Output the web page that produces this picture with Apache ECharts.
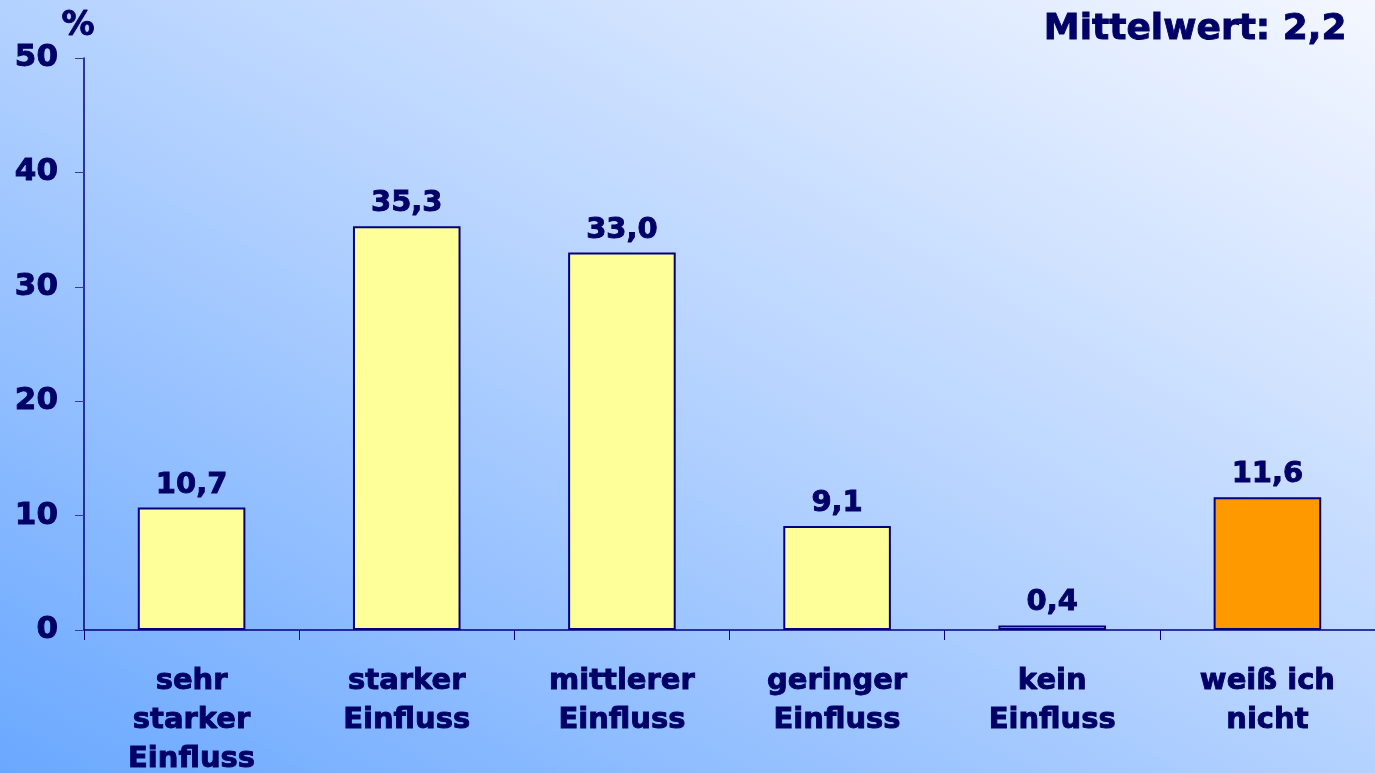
<!DOCTYPE html>
<html>
<head>
<meta charset="utf-8">
<script src="https://cdn.jsdelivr.net/npm/echarts@6/dist/echarts.min.js"></script>
<style>
  html, body { margin: 0; padding: 0; }
  #chart { width: 1375px; height: 773px; }
</style>
</head>
<body>
<div id="chart"></div>
<script>
// Einfluss-Einschätzung (Angaben in %)
const categories = ['sehr\nstarker\nEinfluss', 'starker\nEinfluss', 'mittlerer\nEinfluss', 'geringer\nEinfluss', 'kein\nEinfluss', 'weiß ich\nnicht'];
const values = [10.7, 35.3, 33.0, 9.1, 0.4, 11.6];
const barColors = ['#FFFF99', '#FFFF99', '#FFFF99', '#FFFF99', '#FFFF99', '#FF9900'];
const yTicks = { min: 0, max: 50, interval: 10 };
const meanLabel = 'Mittelwert: 2,2';
const unitLabel = '%';

const navy = '#000066';
const font = 'DejaVu Sans, Verdana, sans-serif';
// thin outline in the text colour to give the heavy Verdana-like weight
const heavy = { textBorderColor: navy, textBorderWidth: 0.9 };

const chart = echarts.init(document.getElementById('chart'));
chart.setOption({
  animation: false,
  // diagonal wash: deep blue in the lower left corner, almost white in the upper right
  backgroundColor: new echarts.graphic.LinearGradient(357, 974, 1017, -202, [
    { offset: 0, color: '#6aa8ff' },
    { offset: 0.5, color: '#b4d2ff' },
    { offset: 1, color: '#f4f7ff' }
  ], true),
  textStyle: { fontFamily: font },
  graphic: [
    {
      type: 'text', right: 28, top: 11,
      style: { text: meanLabel, fill: navy, font: 'bold 36px ' + font, stroke: navy, lineWidth: 0.9 }
    },
    {
      type: 'text', left: 61, top: 9,
      style: { text: unitLabel, fill: navy, font: 'bold 33px ' + font, stroke: navy, lineWidth: 0.9 }
    }
  ],
  grid: { left: 84, right: 0, top: 58, bottom: 143, containLabel: false, outerBoundsMode: 'none' },
  xAxis: {
    type: 'category',
    data: categories,
    axisLine: { lineStyle: { color: '#000080', width: 1.5 } },
    axisTick: { show: true, length: 10, lineStyle: { color: '#000080' }, alignWithLabel: false },
    axisLabel: Object.assign({
      interval: 0, margin: 32, color: navy,
      fontWeight: 'bold', fontSize: 29, lineHeight: 39, fontFamily: font
    }, heavy)
  },
  yAxis: {
    type: 'value',
    min: yTicks.min, max: yTicks.max, interval: yTicks.interval,
    splitLine: { show: false },
    axisLine: { show: true, lineStyle: { color: '#000080', width: 1.5 } },
    axisTick: { show: true, length: 9, lineStyle: { color: '#3a3a9a' } },
    axisLabel: Object.assign({
      margin: 26, color: navy, fontWeight: 'bold', fontSize: 31, fontFamily: font
    }, heavy)
  },
  series: [{
    type: 'bar',
    barWidth: '50%',
    data: values.map((v, i) => ({
      value: v,
      itemStyle: { color: barColors[i], borderColor: '#000080', borderWidth: 2 }
    })),
    label: Object.assign({
      show: true, position: 'top', distance: 8,
      color: navy, fontWeight: 'bold', fontSize: 29, fontFamily: font,
      formatter: p => p.value.toFixed(1).replace('.', ',')
    }, heavy)
  }]
});
</script>
</body>
</html>
